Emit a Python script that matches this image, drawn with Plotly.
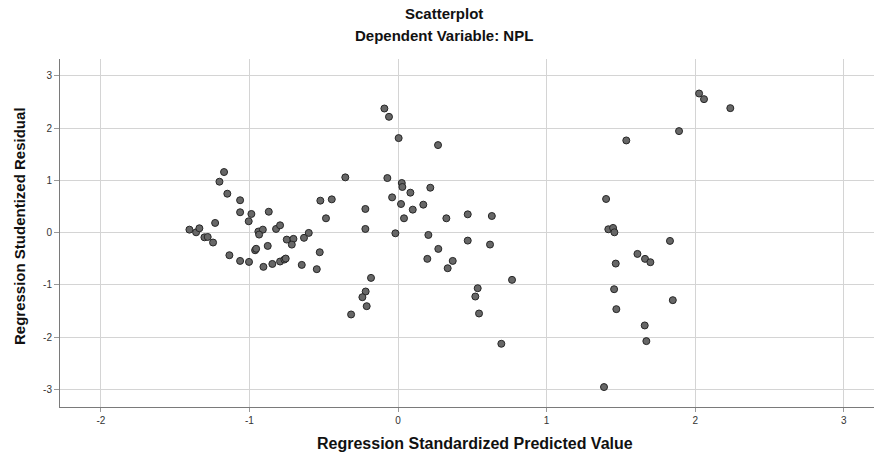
import plotly.graph_objects as go

# Regression standardized predicted values (x) and studentized residuals (y)
pred = [-1.171, -1.202, -1.149, -1.063, -1.063, -0.987, -0.870, -1.005, -1.231, -1.404,
        -1.359, -1.337, -1.303, -1.281, -1.245, -0.940, -0.910, -0.935, -0.821, -0.794,
        -0.749, -0.704, -0.715, -0.633, -0.601, -0.962, -0.955, -0.877, -1.135, -1.063,
        -1.003, -0.906, -0.846, -0.794, -0.765, -0.756, -0.648, -0.547, -0.527, -0.523,
        -0.446, -0.485, -0.355,
        -0.092, -0.061, 0.004, 0.269, -0.072, 0.025, 0.029, 0.217, 0.083, -0.040,
        0.020, 0.170, -0.220, 0.099, 0.040, 0.325, 0.469, 0.631, -0.220, -0.018,
        0.204, 0.469, 0.619, 0.271, 0.197, 0.368, 0.334, -0.182, -0.218, -0.240,
        -0.211, -0.316, 0.767, 0.536, 0.520, 0.545, 0.695,
        2.026, 2.059, 2.236, 1.891, 1.536, 1.400, 1.415, 1.447, 1.456, 1.830,
        1.611, 1.662, 1.698, 1.465, 1.454, 1.849, 1.469, 1.660, 1.671, 1.386]
resid = [1.160, 0.975, 0.745, 0.620, 0.390, 0.357, 0.400, 0.217, 0.185, 0.057,
         0.006, 0.083, -0.090, -0.083, -0.190, 0.020, 0.057, -0.038, 0.070, 0.140,
         -0.134, -0.120, -0.230, -0.100, -0.006, -0.338, -0.310, -0.255, -0.433, -0.542,
         -0.561, -0.656, -0.600, -0.554, -0.516, -0.497, -0.618, -0.700, -0.376, 0.612,
         0.637, 0.274, 1.058,
         2.377, 2.218, 1.810, 1.676, 1.045, 0.950, 0.874, 0.860, 0.765, 0.675,
         0.548, 0.535, 0.453, 0.440, 0.274, 0.274, 0.350, 0.318, 0.070, -0.013,
         -0.045, -0.153, -0.229, -0.312, -0.503, -0.542, -0.682, -0.867, -1.128, -1.237,
         -1.409, -1.568, -0.905, -1.065, -1.224, -1.549, -2.129,
         2.664, 2.556, 2.384, 1.944, 1.765, 0.644, 0.064, 0.090, 0.006, -0.159,
         -0.408, -0.503, -0.567, -0.593, -1.084, -1.294, -1.466, -1.778, -2.078, -2.958]

x_ticks = [-2, -1, 0, 1, 2, 3]
y_ticks = [-3, -2, -1, 0, 1, 2, 3]

FONT = "Liberation Sans, Arial, sans-serif"
W, H = 874, 454
ML, MR, MT, MB = 60, 0, 59, 47
pw = W - ML - MR
ph = H - MT - MB


def px(x):
    return (x - ML) / pw


def py(y):
    return (H - y - MB) / ph


fig = go.Figure()
fig.add_trace(go.Scatter(
    x=pred, y=resid, mode="markers",
    marker=dict(size=7, color="#676767", line=dict(color="#262626", width=1)),
    hoverinfo="x+y", showlegend=False,
))

grid = "#d4d4d4"
ann_font = dict(family=FONT, color="#111111")
fig.update_layout(
    width=W, height=H,
    margin=dict(l=ML, r=MR, t=MT, b=MB),
    paper_bgcolor="white", plot_bgcolor="white",
    font=dict(family=FONT, color="#222222"),
    xaxis=dict(range=[-2.275, 3.203], tickvals=x_ticks, ticktext=[str(v) for v in x_ticks],
               showgrid=True, gridcolor=grid, gridwidth=1, zeroline=False,
               showline=True, linecolor="#7a7a7a", linewidth=1,
               ticks="outside", ticklen=4, tickcolor="#9a9a9a",
               tickfont=dict(size=10, color="#333333", family=FONT)),
    yaxis=dict(range=[-3.34, 3.325], tickvals=y_ticks, ticktext=[str(v) for v in y_ticks],
               showgrid=True, gridcolor=grid, gridwidth=1, zeroline=False,
               showline=True, linecolor="#7a7a7a", linewidth=1,
               ticks="outside", ticklen=5, tickcolor="#9a9a9a",
               tickfont=dict(size=10, color="#333333", family=FONT)),
    annotations=[
        dict(text="<b>Scatterplot</b>", x=px(444), y=py(13),
             font=dict(size=15, **ann_font)),
        dict(text="<b>Dependent Variable: NPL</b>", x=px(444), y=py(35),
             font=dict(size=15, **ann_font)),
        dict(text="<b>Regression Standardized Predicted Value</b>", x=px(475), y=py(444),
             font=dict(size=16, **ann_font)),
        dict(text="<b>Regression Studentized Residual</b>", x=px(19), y=py(226),
             textangle=-90, font=dict(size=15, **ann_font)),
    ],
)
fig.update_annotations(xref="paper", yref="paper", showarrow=False,
                       xanchor="center", yanchor="middle")

fig.write_html("out.html", config={"displayModeBar": False},
               post_script="document.body.style.margin='0';document.body.style.overflow='hidden';")
